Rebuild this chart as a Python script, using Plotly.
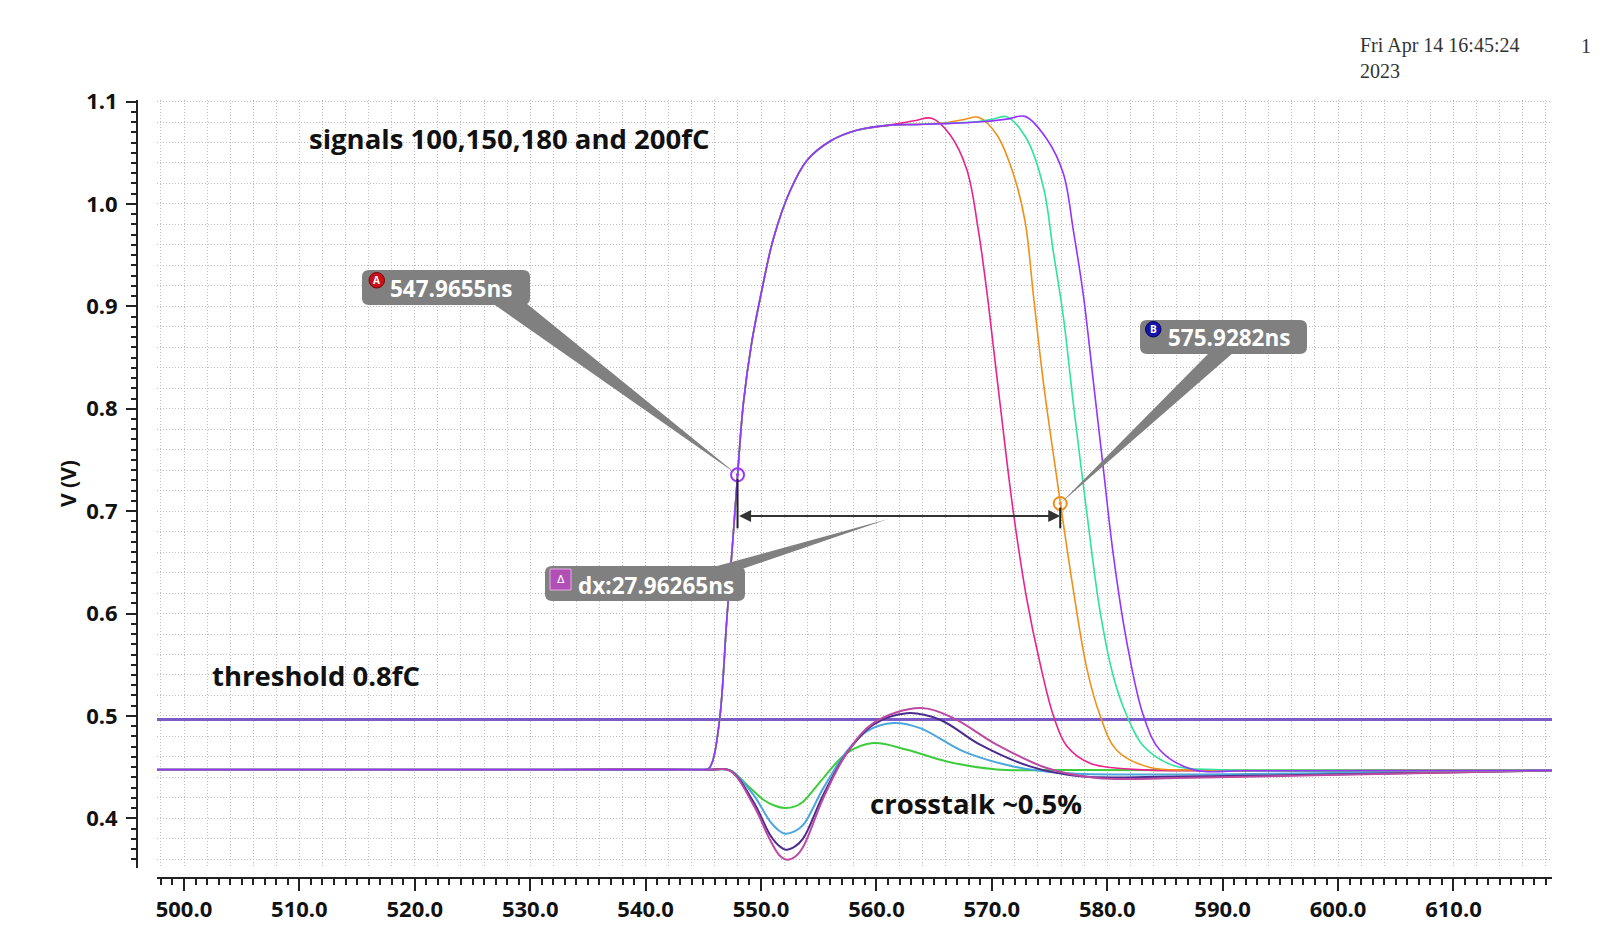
import plotly.graph_objects as go

# ---------------------------------------------------------------- axes window
T_RANGE = [497.66, 618.54]          # ns
V_RANGE = [0.3515, 1.1015]          # V

BASELINE_V = 0.4475
THRESHOLD_V = 0.4965

# ---------------------------------------------------------------- waveforms
# leading edge shared by all four injected charges
RISE_T = [497.66, 530.0, 544.6, 545.2, 545.5, 545.84, 546.45, 547.03, 547.60, 547.97,
          548.47, 549.19, 550.06, 551.07, 552.51, 553.96, 555.98, 558.29, 561.18]
RISE_V = [0.4475, 0.4475, 0.4475, 0.4476, 0.4490, 0.4570, 0.5004, 0.5935, 0.6781, 0.7355,
          0.8052, 0.8645, 0.9152, 0.9660, 1.0126, 1.0422, 1.0612, 1.0719, 1.0770]

# plateau + trailing edge, 100 fC
SIG100_T = [563.3, 564.79, 566.38, 567.83, 568.83, 569.70, 570.71, 571.86, 573.02,
            574.18, 575.33, 576.49, 578.51, 582.26, 590.0, 605.0, 618.54]
SIG100_V = [1.0812, 1.0837, 1.0676, 1.0337, 0.9745, 0.9025, 0.8052, 0.6993, 0.6146,
            0.5512, 0.5004, 0.4707, 0.4538, 0.4478, 0.4465, 0.4466, 0.4468]

# plateau + trailing edge, 150 fC
SIG150_T = [563.5, 565.8, 567.6, 568.83, 570.43, 571.86, 572.88, 573.60, 574.46, 575.62,
            577.06, 578.22, 579.38, 580.82, 583.71, 588.04, 600.0, 618.54]
SIG150_V = [1.0778, 1.0790, 1.0825, 1.0846, 1.0676, 1.0295, 0.9829, 0.9110, 0.8263, 0.7332,
            0.6231, 0.5470, 0.5004, 0.4665, 0.4496, 0.4472, 0.4463, 0.4468]

# plateau + trailing edge, 180 fC
SIG180_T = [563.5, 565.8, 568.83, 570.2, 571.29, 573.02, 574.46, 575.33, 576.20, 577.06,
            578.22, 579.38, 580.53, 581.69, 583.13, 585.73, 589.77, 600.0, 618.54]
SIG180_V = [1.0776, 1.0786, 1.0805, 1.0832, 1.0852, 1.0634, 1.0168, 0.9533, 0.8898, 0.8052,
            0.6993, 0.6020, 0.5385, 0.5004, 0.4707, 0.4517, 0.4475, 0.4463, 0.4468]

# plateau + trailing edge, 200 fC
SIG200_T = [563.5, 565.8, 568.83, 571.29, 572.88, 574.76, 576.20, 577.06, 577.93, 578.80,
            579.66, 580.53, 581.69, 583.13, 584.58, 587.46, 592.0, 618.54]
SIG200_V = [1.0775, 1.0784, 1.0800, 1.0828, 1.0855, 1.0634, 1.0295, 0.9745, 0.9110, 0.8263,
            0.7417, 0.6570, 0.5724, 0.5004, 0.4665, 0.4475, 0.4464, 0.4468]

# crosstalk seen on the neighbouring channel
XT_A_T = [497.66, 530.0, 545.5, 547.31, 548.76, 550.20, 551.15, 552.08, 552.95, 553.67,
          555.40, 557.43, 559.73, 562.63, 566.09, 570.42, 576.0, 590.0, 618.54]
XT_A_V = [0.4475, 0.4475, 0.4475, 0.4470, 0.4329, 0.4182, 0.4125, 0.4100, 0.4117, 0.4165,
          0.4393, 0.4637, 0.4735, 0.4670, 0.4556, 0.4478, 0.4471, 0.4470, 0.4470]

XT_B_T = [497.66, 530.0, 545.5, 547.31, 549.33, 550.78, 551.45, 552.08, 552.90, 553.67,
          555.40, 557.43, 559.16, 561.46, 563.78, 567.53, 571.86, 576.20, 585.0, 598.0, 618.54]
XT_B_V = [0.4475, 0.4475, 0.4475, 0.4468, 0.4231, 0.3970, 0.3890, 0.3850, 0.3872, 0.3938,
          0.4295, 0.4654, 0.4849, 0.4930, 0.4881, 0.4654, 0.4507, 0.4442, 0.4427, 0.4440, 0.4468]

XT_C_T = [497.66, 530.0, 545.5, 547.31, 549.33, 550.78, 551.50, 552.17, 552.95, 553.67,
          555.40, 557.43, 559.73, 562.63, 565.51, 568.98, 573.31, 577.64, 585.0, 598.0, 618.54]
XT_C_V = [0.4475, 0.4475, 0.4475, 0.4466, 0.4165, 0.3840, 0.3738, 0.3694, 0.3726, 0.3807,
          0.4231, 0.4637, 0.4914, 0.5027, 0.4963, 0.4719, 0.4507, 0.4410, 0.4405, 0.4425, 0.4468]

XT_D_T = [497.66, 530.0, 545.5, 547.31, 549.33, 550.78, 551.55, 552.23, 553.00, 553.67,
          555.40, 557.43, 559.73, 563.78, 566.66, 570.42, 574.76, 579.09, 586.0, 598.0, 618.54]
XT_D_V = [0.4475, 0.4475, 0.4475, 0.4465, 0.4133, 0.3791, 0.3645, 0.3596, 0.3630, 0.3726,
          0.4198, 0.4637, 0.4930, 0.5077, 0.4979, 0.4719, 0.4491, 0.4393, 0.4393, 0.4420, 0.4468]

# cursors
MARKER_T = [547.9655, 575.9282]
MARKER_V = [0.7355, 0.7075]
MARKER_LABELS = ["547.9655ns", "575.9282ns"]
DELTA_LABEL = "dx:27.96265ns"
ARROW_V = 0.6952

# ---------------------------------------------------------------- page geometry (px)
W, H = 1615, 934
M_L, M_R, M_T, M_B = 137, 63, 100, 56
PLOT_L, PLOT_R, PLOT_T, PLOT_B = 157, W - M_R, M_T, 868
PAPER_W = W - M_L - M_R
PAPER_H = H - M_T - M_B
XDOM = [(PLOT_L - M_L) / PAPER_W, 1.0]
YDOM = [(H - M_B - PLOT_B) / PAPER_H, 1.0]


def X(px):
    return T_RANGE[0] + (px - PLOT_L) * (T_RANGE[1] - T_RANGE[0]) / (PLOT_R - PLOT_L)


def Y(py):
    return V_RANGE[1] - (py - PLOT_T) * (V_RANGE[1] - V_RANGE[0]) / (PLOT_B - PLOT_T)


def paper_x(px):
    return (px - M_L) / PAPER_W


def paper_y(py):
    return (H - M_B - py) / PAPER_H


def rounded_box(x0, y0, x1, y1, r):
    return (f"M {X(x0 + r)},{Y(y0)} L {X(x1 - r)},{Y(y0)} Q {X(x1)},{Y(y0)} {X(x1)},{Y(y0 + r)} "
            f"L {X(x1)},{Y(y1 - r)} Q {X(x1)},{Y(y1)} {X(x1 - r)},{Y(y1)} "
            f"L {X(x0 + r)},{Y(y1)} Q {X(x0)},{Y(y1)} {X(x0)},{Y(y1 - r)} "
            f"L {X(x0)},{Y(y0 + r)} Q {X(x0)},{Y(y0)} {X(x0 + r)},{Y(y0)} Z")


def wedge(bx0, bx1, by, tip_t, tip_v):
    return f"M {X(bx0)},{Y(by)} L {X(bx1)},{Y(by)} L {tip_t},{tip_v} Z"


SMOOTH = 1.0
fig = go.Figure()

# threshold level
fig.add_trace(go.Scatter(x=T_RANGE, y=[THRESHOLD_V, THRESHOLD_V], mode="lines",
                         line=dict(color="#7b5cc7", width=3), hoverinfo="skip"))

# crosstalk curves
for ts, vs, col in [(XT_A_T, XT_A_V, "#3ccc3c"), (XT_B_T, XT_B_V, "#4aa6dc"),
                    (XT_C_T, XT_C_V, "#4b2c8e"), (XT_D_T, XT_D_V, "#bc4aa2")]:
    fig.add_trace(go.Scatter(x=ts, y=vs, mode="lines",
                             line=dict(color=col, width=2, shape="spline", smoothing=SMOOTH),
                             hoverinfo="skip"))

# signal curves
for ts, vs, col in [(SIG100_T, SIG100_V, "#e8238c"), (SIG150_T, SIG150_V, "#f0901a"),
                    (SIG180_T, SIG180_V, "#2fe39c"), (SIG200_T, SIG200_V, "#9533ff")]:
    fig.add_trace(go.Scatter(x=RISE_T + ts, y=RISE_V + vs, mode="lines",
                             line=dict(color=col, width=1.6, shape="spline", smoothing=SMOOTH),
                             hoverinfo="skip"))

# cursor points
fig.add_trace(go.Scatter(x=MARKER_T, y=MARKER_V, mode="markers",
                         marker=dict(symbol="circle-open-dot", size=13,
                                     color=["#9c33ff", "#f0901a"],
                                     line=dict(width=2, color=["#9c33ff", "#f0901a"])),
                         hoverinfo="skip"))

# empty trace carrying the fine grid axes
fig.add_trace(go.Scatter(x=[], y=[], xaxis="x2", yaxis="y2", hoverinfo="skip"))

shapes = []
annotations = []

# cursor drop lines
for t, v in zip(MARKER_T, MARKER_V):
    shapes.append(dict(type="line", xref="x", yref="y", x0=t, x1=t, y0=v - 0.004,
                       y1=ARROW_V - 0.012, line=dict(color="#222222", width=2), layer="above"))

# dx arrow
annotations.append(dict(x=MARKER_T[1], y=ARROW_V, ax=MARKER_T[0], ay=ARROW_V,
                        xref="x", yref="y", axref="x", ayref="y", text="",
                        showarrow=True, arrowhead=2, startarrowhead=2, arrowside="end+start",
                        arrowsize=1.2, startarrowsize=1.2, arrowwidth=2, arrowcolor="#333333",
                        standoff=0, startstandoff=0))

GREY = "#808080"

# callout A
shapes.append(dict(type="path", xref="x", yref="y", layer="above", line=dict(width=0),
                   fillcolor=GREY, path=wedge(492, 526, 303, MARKER_T[0], MARKER_V[0])))
shapes.append(dict(type="path", xref="x", yref="y", layer="above", line=dict(width=0),
                   fillcolor=GREY, path=rounded_box(362, 270, 530, 305, 7)))
shapes.append(dict(type="circle", xref="x", yref="y", layer="above",
                   x0=X(369), x1=X(384.5), y0=Y(288), y1=Y(272.5),
                   fillcolor="#c8101a", line=dict(color="#7a0000", width=1)))
annotations.append(dict(x=X(376.8), y=Y(280), xref="x", yref="y", text="A", showarrow=False,
                        font=dict(family="Open Sans", size=10, color="white", weight="bold")))
annotations.append(dict(x=X(388), y=Y(288.5), xref="x", yref="y", text=MARKER_LABELS[0],
                        showarrow=False, xanchor="left", yanchor="middle",
                        font=dict(family="Open Sans", size=22.5, color="white", weight="bold")))

# callout B
shapes.append(dict(type="path", xref="x", yref="y", layer="above", line=dict(width=0),
                   fillcolor=GREY, path=wedge(1210, 1234, 352, MARKER_T[1], MARKER_V[1])))
shapes.append(dict(type="path", xref="x", yref="y", layer="above", line=dict(width=0),
                   fillcolor=GREY, path=rounded_box(1140, 320, 1307, 354, 7)))
shapes.append(dict(type="circle", xref="x", yref="y", layer="above",
                   x0=X(1145.5), x1=X(1161), y0=Y(337), y1=Y(321.5),
                   fillcolor="#1414a8", line=dict(color="#000060", width=1)))
annotations.append(dict(x=X(1153.3), y=Y(329), xref="x", yref="y", text="B", showarrow=False,
                        font=dict(family="Open Sans", size=10, color="white", weight="bold")))
annotations.append(dict(x=X(1166), y=Y(337.5), xref="x", yref="y", text=MARKER_LABELS[1],
                        showarrow=False, xanchor="left", yanchor="middle",
                        font=dict(family="Open Sans", size=22.5, color="white", weight="bold")))

# callout dx
tip_t = MARKER_T[0] + 0.467 * (MARKER_T[1] - MARKER_T[0])
shapes.append(dict(type="path", xref="x", yref="y", layer="above", line=dict(width=0),
                   fillcolor=GREY, path=wedge(706, 742, 569, tip_t, ARROW_V - 0.003)))
shapes.append(dict(type="path", xref="x", yref="y", layer="above", line=dict(width=0),
                   fillcolor=GREY, path=rounded_box(545, 566, 745, 601, 7)))
shapes.append(dict(type="rect", xref="x", yref="y", layer="above",
                   x0=X(550), x1=X(571), y0=Y(590), y1=Y(569),
                   fillcolor="#b050b4", line=dict(color="#e6a8e6", width=1)))
annotations.append(dict(x=X(560.5), y=Y(579), xref="x", yref="y", text="Δ", showarrow=False,
                        font=dict(family="DejaVu Sans", size=11, color="white")))
annotations.append(dict(x=X(576), y=Y(585), xref="x", yref="y", text=DELTA_LABEL,
                        showarrow=False, xanchor="left", yanchor="middle",
                        font=dict(family="Open Sans", size=22.5, color="white", weight="bold")))

# free text on the plot
BIG = dict(family="Open Sans", size=27.5, color="#111111", weight="bold")
annotations.append(dict(x=X(307), y=Y(138), xref="x", yref="y", xanchor="left",
                        yanchor="middle", showarrow=False,
                        text="signals 100,150,180 and 200fC", font=BIG))
annotations.append(dict(x=X(210), y=Y(675), xref="x", yref="y", xanchor="left",
                        yanchor="middle", showarrow=False, text="threshold 0.8fC", font=BIG))
annotations.append(dict(x=X(868), y=Y(803), xref="x", yref="y", xanchor="left",
                        yanchor="middle", showarrow=False, text="crosstalk ~0.5%", font=BIG))

# y axis title
annotations.append(dict(x=paper_x(68), y=paper_y(484), xref="paper", yref="paper",
                        xanchor="center", yanchor="middle",
                        text="V (V)", textangle=-90, showarrow=False,
                        font=dict(family="Open Sans", size=21, color="#111111", weight="bold")))

# date stamp and page number
annotations.append(dict(x=paper_x(1358), y=paper_y(58.5), xref="paper", yref="paper",
                        xanchor="left", yanchor="middle", align="left", showarrow=False,
                        text="Fri Apr 14 16:45:24<br>2023",
                        font=dict(family="Liberation Serif", size=20, color="#333333")))
annotations.append(dict(x=paper_x(1586), y=paper_y(46), xref="paper", yref="paper",
                        xanchor="center", yanchor="middle", showarrow=False, text="1",
                        font=dict(family="Liberation Serif", size=20, color="#333333")))

TICKFONT = dict(family="Open Sans", size=22, color="#111111", weight="bold")
MAJOR_GRID = dict(showgrid=True, gridcolor="#8c8c8c", gridwidth=1, griddash="1px,2px")
FINE_GRID = dict(showgrid=True, gridcolor="#bdbdbd", gridwidth=1, griddash="1px,2px")

fig.update_layout(
    width=W, height=H,
    margin=dict(l=M_L, r=M_R, t=M_T, b=M_B, autoexpand=False),
    paper_bgcolor="white", plot_bgcolor="white",
    showlegend=False,
    font=dict(family="Open Sans"),
    xaxis=dict(range=T_RANGE, domain=XDOM, anchor="free", position=0,
               tick0=500, dtick=10, tickformat=".1f", tickfont=TICKFONT,
               ticks="outside", ticklen=12, tickwidth=2, tickcolor="#222222",
               showline=True, linecolor="#222222", linewidth=2, zeroline=False,
               minor=dict(dtick=1, tick0=500, ticks="outside", ticklen=6, tickwidth=1.5,
                          tickcolor="#222222", showgrid=False),
               automargin=False, fixedrange=True, **MAJOR_GRID),
    yaxis=dict(range=V_RANGE, domain=YDOM, anchor="free", position=0,
               tick0=0, dtick=0.1, tickformat=".1f", tickfont=TICKFONT,
               ticks="outside", ticklen=10, tickwidth=2, tickcolor="#222222",
               showline=True, linecolor="#222222", linewidth=2, zeroline=False,
               minor=dict(dtick=0.01, tick0=0, ticks="outside", ticklen=5, tickwidth=1.5,
                          tickcolor="#222222", showgrid=False),
               automargin=False, fixedrange=True, ticklabelstandoff=4, **MAJOR_GRID),
    xaxis2=dict(overlaying="x", range=T_RANGE, domain=XDOM, anchor="y2", tick0=500, dtick=2,
                showticklabels=False, ticks="", showline=False, zeroline=False,
                automargin=False, **FINE_GRID),
    yaxis2=dict(overlaying="y", range=V_RANGE, domain=YDOM, anchor="x2", tick0=0, dtick=0.02,
                showticklabels=False, ticks="", showline=False, zeroline=False,
                automargin=False, **FINE_GRID),
    shapes=shapes,
    annotations=annotations,
)

fig.write_html("out.html")
